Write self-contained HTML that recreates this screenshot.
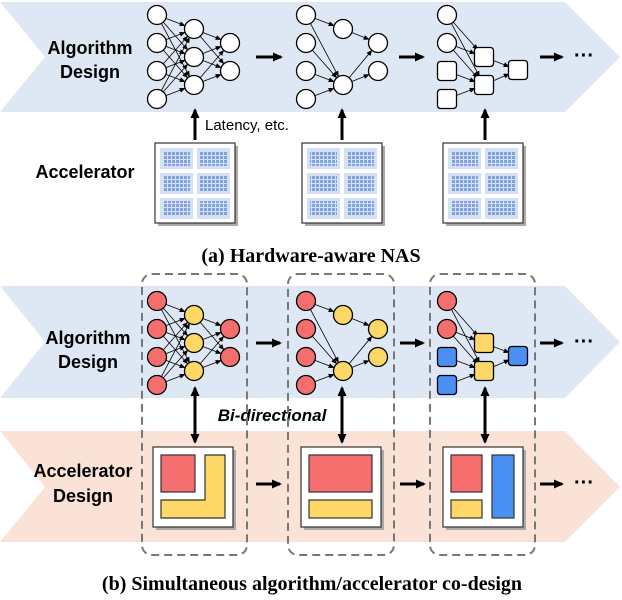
<!DOCTYPE html>
<html><head><meta charset="utf-8"><style>
body{margin:0;background:#fff;width:622px;height:600px;overflow:hidden}
svg{display:block}
.lbl{font-family:"Liberation Sans","DejaVu Sans",sans-serif;font-weight:bold;font-size:18px;fill:#000}
.cap{font-family:"Liberation Serif",serif;font-weight:bold;font-size:20px;fill:#000}
</style></head><body>
<svg id="s" width="622" height="600" viewBox="0 0 622 600" xmlns="http://www.w3.org/2000/svg">
<defs>
<marker id="ah" markerWidth="6" markerHeight="6" refX="5" refY="3" orient="auto" markerUnits="userSpaceOnUse"><path d="M0,0.5 L6,3 L0,5.5z" fill="#000"/></marker>
<marker id="bh" markerWidth="10" markerHeight="10" refX="8" refY="5" orient="auto" markerUnits="userSpaceOnUse"><path d="M0,0.5 L10,5 L0,9.5z" fill="#000"/></marker>
<pattern id="grid" width="4" height="4" patternUnits="userSpaceOnUse"><rect width="3" height="3" fill="#7fa3e0"/></pattern>
</defs>
<polygon points="0,2 565,2 620,57 565,112 0,112 45,57" fill="#dde8f4"/>
<polygon points="0,286 565,286 620,342 565,398 0,398 45,342" fill="#dde8f4"/>
<polygon points="0,431 565,431 620,487 565,542 0,542 45,487" fill="#fae3d6"/>
<text class="lbl" x="90" y="54" text-anchor="middle">Algorithm</text>
<text class="lbl" x="90" y="78" text-anchor="middle">Design</text>
<text class="lbl" x="85" y="178" text-anchor="middle">Accelerator</text>
<text class="lbl" x="88" y="344" text-anchor="middle">Algorithm</text>
<text class="lbl" x="88" y="368" text-anchor="middle">Design</text>
<text class="lbl" x="83" y="477" text-anchor="middle">Accelerator</text>
<text class="lbl" x="83" y="502" text-anchor="middle">Design</text>
<text class="cap" x="311" y="262" text-anchor="middle">(a) Hardware-aware NAS</text>
<text class="cap" x="312" y="590" text-anchor="middle">(b) Simultaneous algorithm/accelerator co-design</text>
<text x="205" y="130" font-family="Liberation Sans,sans-serif" font-size="15">Latency, etc.</text>
<text x="272" y="421" text-anchor="middle" font-family="Liberation Sans,sans-serif" font-size="17" font-weight="bold" font-style="italic">Bi-directional</text>
<g fill="none" stroke="#777" stroke-width="2" stroke-dasharray="8,5">
<rect x="142" y="274" width="105" height="281" rx="10"/>
<rect x="288" y="274" width="106" height="281" rx="10"/>
<rect x="430" y="274" width="105" height="281" rx="10"/>
</g>
<g id="g"></g>
</svg>
<script>
const g=document.getElementById('g');const NS='http://www.w3.org/2000/svg';
function el(t,a){const e=document.createElementNS(NS,t);for(const k in a)e.setAttribute(k,a[k]);g.appendChild(e);return e}
const W='#fff',R='#f46e6e',Y='#fdd866',B='#4a90f4';
function line(a,b,r1,r2){const dx=b[0]-a[0],dy=b[1]-a[1],d=Math.hypot(dx,dy);
el('line',{x1:a[0]+dx/d*r1,y1:a[1]+dy/d*r1,x2:b[0]-dx/d*r2,y2:b[1]-dy/d*r2,stroke:'#000','stroke-width':0.8,'marker-end':'url(#ah)'})}
function circ(p,f){el('circle',{cx:p[0],cy:p[1],r:9.5,fill:f,stroke:'#000','stroke-width':1.3})}
function sq(p,f){el('rect',{x:p[0]-9.5,y:p[1]-9.5,width:19,height:19,rx:3,fill:f,stroke:'#000','stroke-width':1.3})}
function arrow(x1,y1,x2,y2){el('line',{x1,y1,x2,y2,stroke:'#000','stroke-width':3,'marker-end':'url(#bh)'})}
function biarrow(x,y1,y2){arrow(x,(y1+y2)/2,x,y1);arrow(x,(y1+y2)/2,x,y2)}
function nn1(oy,ci,ch,co){
 const I=[15,43,71,99].map(y=>[157,y+oy]),H=[29,57,85].map(y=>[194,y+oy]),O=[43,71].map(y=>[230,y+oy]);
 I.forEach(a=>H.forEach(b=>line(a,b,9.5,10)));H.forEach(a=>O.forEach(b=>line(a,b,9.5,10)));
 I.forEach(p=>circ(p,ci));H.forEach(p=>circ(p,ch));O.forEach(p=>circ(p,co));}
function nn2(oy,ci,ch,co){
 const I=[15,43,71,99].map(y=>[306,y+oy]),H=[[343,29+oy],[343,85+oy]],O=[[378,43+oy],[378,71+oy]];
 line(I[0],H[0],9.5,10);I.forEach(a=>line(a,H[1],9.5,10));line(H[0],O[0],9.5,10);line(H[1],O[0],9.5,10);line(H[1],O[1],9.5,10);
 I.forEach(p=>circ(p,ci));H.forEach(p=>circ(p,ch));O.forEach(p=>circ(p,co));}
function nn3(oy,cc,cs,ch,co){
 const C=[[447,15+oy],[447,43+oy]],S=[[447,71+oy],[447,99+oy]],H=[[484,57+oy],[484,85+oy]],O=[518,70+oy];
 C.forEach(a=>H.forEach(b=>line(a,b,9.5,10)));S.forEach(a=>line(a,H[1],9.5,10));H.forEach(a=>line(a,O,9.5,10));
 C.forEach(p=>circ(p,cc));S.forEach(p=>sq(p,cs));H.forEach(p=>sq(p,ch));sq(O,co);}
nn1(0,W,W,W);nn2(0,W,W,W);nn3(0,W,W,W,W);
nn1(286,R,Y,R);nn2(286,R,Y,Y);nn3(286,R,B,Y,B);
[[256,281,57],[399,423,57],[540,562,57],[256,280,343],[400,423,343],[540,562,343],[256,280,484],[400,424,484],[540,562,484]].forEach(a=>arrow(a[0],a[2],a[1],a[2]));
[57,343,484].forEach(y=>{const t=el('text',{x:574,y:y+5,'font-family':'Liberation Sans,sans-serif','font-size':20,'font-weight':'bold'});t.textContent='···'});
[195,342,485].forEach(x=>arrow(x,140,x,110));
[195,342,485].forEach(x=>biarrow(x,388,442));
function chip(x,y){el('rect',{x:x+3,y:y+3,width:80,height:80,fill:'#aaa'});el('rect',{x,y,width:80,height:80,fill:'#fff',stroke:'#333','stroke-width':1.2});
 for(let r=0;r<3;r++)for(let c=0;c<2;c++){const bx=x+5+c*37,by=y+5+r*25;el('rect',{x:bx,y:by,width:33,height:21,fill:'#d5e0f2'});el('rect',{x:bx+3,y:by+3,width:27,height:15,fill:'url(#grid)'});}}
chip(155,143);chip(302,143);chip(443,143);
function box(x,y){el('rect',{x:x+3,y:y+3,width:80,height:80,fill:'#aaa'});el('rect',{x,y,width:80,height:80,fill:'#fff',stroke:'#333','stroke-width':1.2});}
function r(x,y,w,h,f){el('rect',{x,y,width:w,height:h,fill:f,stroke:'#333','stroke-width':1.2})}
box(153,447);r(161,455,34,37,R);el('path',{d:'M205,455 H225 V518 H161 V500 H205 Z',fill:Y,stroke:'#333','stroke-width':1.2});
box(301,447);r(309,455,63,37,R);r(309,500,63,18,Y);
box(443,447);r(451,455,31,37,R);r(451,500,31,18,Y);r(492,455,22,63,B);
</script>
</body></html>
